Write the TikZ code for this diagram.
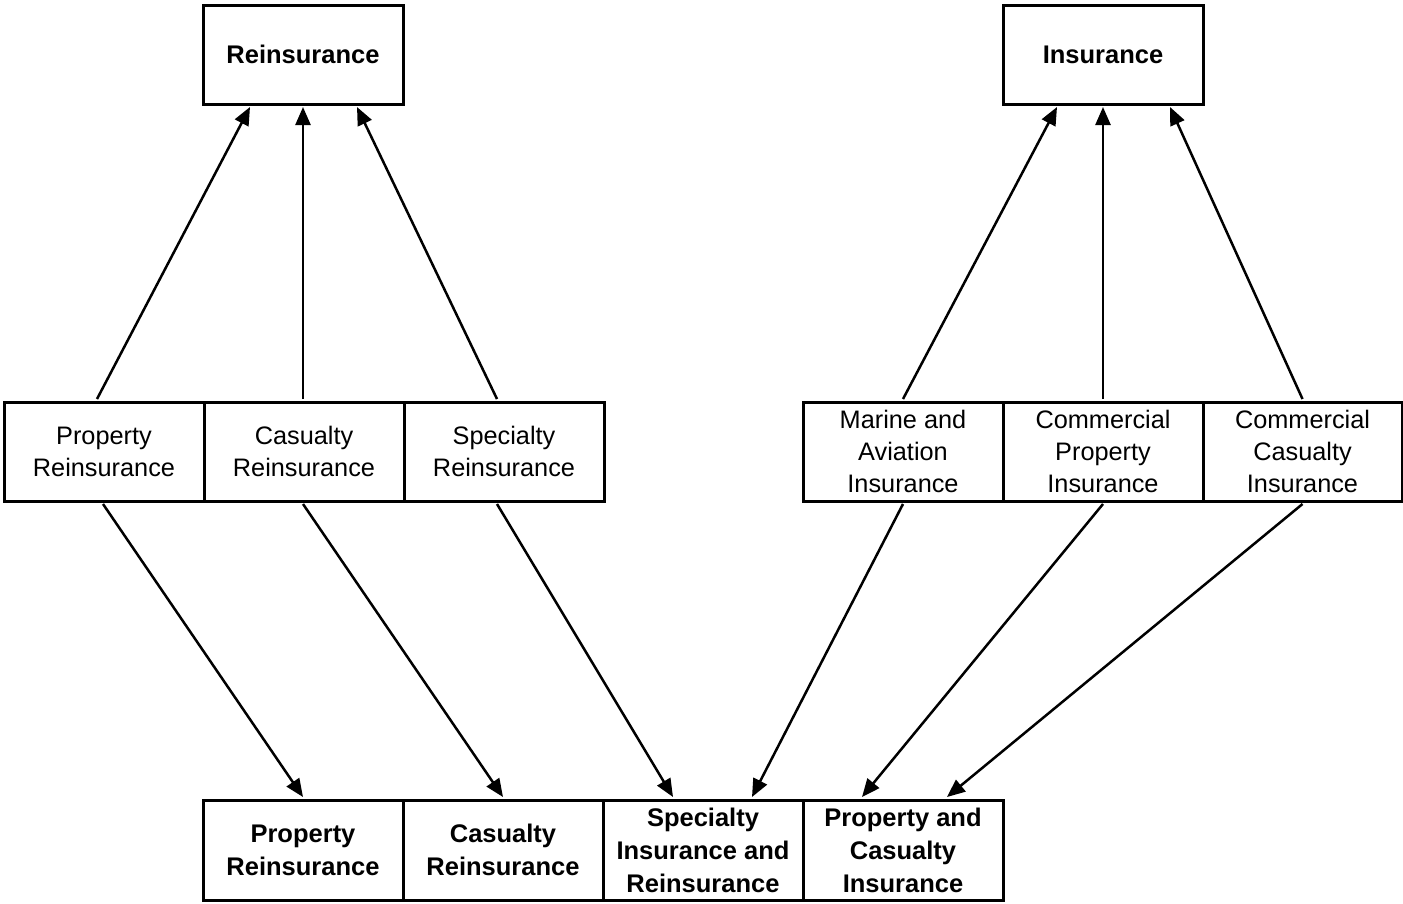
\documentclass[tikz,border=0pt]{standalone}
\usepackage{fontspec}
\setmainfont{Liberation Sans}
\usetikzlibrary{arrows.meta,calc}
\begin{document}
\begin{tikzpicture}[x=1pt,y=-1pt,
  box/.style={draw=black,line width=3pt,minimum width=200pt,minimum height=99pt,inner sep=0pt,align=center,
    font=\fontsize{25.3}{32}\selectfont},
  boldbox/.style={box,font=\fontsize{25.5}{33}\selectfont\bfseries},
  arr/.style={line width=2.5pt,-{Triangle[length=18pt,width=15pt]}}]
\useasboundingbox[fill=white] (0,0) rectangle (1403,903);
% top
\node[boldbox] (re) at (303,54.5) {Reinsurance};
\node[boldbox] (in) at (1103,54.5) {Insurance};
% middle left
\node[box] (pr) at (104,451.5) {Property\\Reinsurance};
\node[box] (cr) at (304,451.5) {Casualty\\Reinsurance};
\node[box] (sr) at (504,451.5) {Specialty\\Reinsurance};
% middle right
\node[box] (ma) at (903,451.5) {Marine and\\Aviation\\Insurance};
\node[box] (cp) at (1103,451.5) {Commercial\\Property\\Insurance};
\node[box,minimum width=199pt] (cc) at (1302.5,451.5) {Commercial\\Casualty\\Insurance};
% bottom
\node[boldbox,minimum height=100pt] (b1) at (303,850) {Property\\Reinsurance};
\node[boldbox,minimum height=100pt] (b2) at (503,850) {Casualty\\Reinsurance};
\node[boldbox,minimum height=100pt] (b3) at (703,850) {Specialty\\Insurance and\\Reinsurance};
\node[boldbox,minimum height=100pt] (b4) at (903,850) {Property and\\Casualty\\Insurance};
% upward arrows
\draw[arr] ($(pr.north)+(-7,-1.5)$) -- ($(re.south)+(-53,1.5)$);
\draw[arr] ($(cr.north)+(-1,-1.5)$) -- ($(re.south)+(0,1.5)$);
\draw[arr] ($(sr.north)+(-7,-1.5)$) -- ($(re.south)+(54,1.5)$);
\draw[arr] ($(ma.north)+(0,-1.5)$) -- ($(in.south)+(-46,1.5)$);
\draw[arr] ($(cp.north)+(0,-1.5)$) -- ($(in.south)+(0,1.5)$);
\draw[arr] ($(cc.north)+(0,-1.5)$) -- ($(in.south)+(67,1.5)$);
% downward arrows
\draw[arr] ($(pr.south)+(-1,1.5)$) -- ($(b1.north)+(0,-1.5)$);
\draw[arr] ($(cr.south)+(-1,1.5)$) -- ($(b2.north)+(0,-1.5)$);
\draw[arr] ($(sr.south)+(-7,1.5)$) -- ($(b3.north)+(-30,-1.5)$);
\draw[arr] ($(ma.south)+(0,1.5)$) -- ($(b3.north)+(49,-1.5)$);
\draw[arr] ($(cp.south)+(0,1.5)$) -- ($(b4.north)+(-41,-1.5)$);
\draw[arr] ($(cc.south)+(0,1.5)$) -- ($(b4.north)+(44,-1.5)$);
\end{tikzpicture}
\end{document}
